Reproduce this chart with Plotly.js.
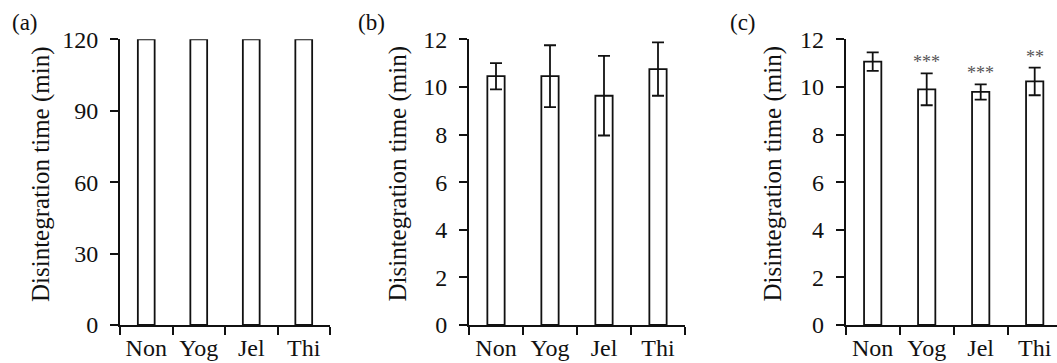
<!DOCTYPE html>
<html><head><meta charset="utf-8">
<script src="https://cdn.plot.ly/plotly-3.0.1.min.js"></script>
<style>html,body{margin:0;padding:0;background:#fff}</style>
</head><body><div id="chart" style="width:1057px;height:363px"></div>
<script>
const categories = ['Non', 'Yog', 'Jel', 'Thi'];
const valuesA = [120, 120, 120, 120];
const valuesB = [10.45, 10.45, 9.63, 10.75];
const errorsB = [0.55, 1.3, 1.67, 1.12];
const valuesC = [11.06, 9.9, 9.79, 10.23];
const errorsC = [0.39, 0.67, 0.32, 0.58];
const significanceC = ['', '***', '***', '**'];
const panelLabels = ['(a)', '(b)', '(c)'];
const yTitle = 'Disintegration time (min)';
const yTicksA = [0, 30, 60, 90, 120];
const yTicksBC = [0, 2, 4, 6, 8, 10, 12];

const W = 1057, H = 363;
const FONT = '"Liberation Serif", "Times New Roman", Times, serif';
const INK = '#111111';
const px = v => v / W;
const py = v => (H - v) / H;

function barTrace(vals, errs, xa, ya) {
  const t = {
    type: 'bar', x: categories, y: vals, xaxis: xa, yaxis: ya,
    width: 0.32, cliponaxis: false,
    marker: {color: '#ffffff', line: {color: INK, width: 1.8}},
    hoverinfo: 'skip', showlegend: false
  };
  if (errs) t.error_y = {type: 'data', array: errs, visible: true, color: INK, thickness: 1.8, width: 6};
  return t;
}

function xAxis(domain, range, anchor) {
  return {
    domain: domain, type: 'category', range: range, anchor: anchor,
    tickson: 'boundaries', ticks: 'outside', ticklen: 8, tickwidth: 1.8, tickcolor: INK,
    showline: true, linewidth: 1.8, linecolor: INK, showgrid: false, zeroline: false,
    tickfont: {family: FONT, size: 24, color: INK}
  };
}
function yAxis(range, tickvals, anchor) {
  return {
    domain: [py(325), py(39.3)], range: range, tickvals: tickvals, anchor: anchor,
    ticks: 'outside', ticklen: 8, tickwidth: 1.8, tickcolor: INK, ticklabelstandoff: 7,
    showline: true, linewidth: 1.8, linecolor: INK, showgrid: false, zeroline: false,
    tickfont: {family: FONT, size: 24, color: INK}
  };
}

const data = [
  barTrace(valuesA, null, 'x', 'y'),
  barTrace(valuesB, errorsB, 'x2', 'y2'),
  barTrace(valuesC, errorsC, 'x3', 'y3')
];

const annotations = [];
const titleX = [41, 397.5, 772.5];
const labelX = [24.5, 371.5, 742.5];
for (let i = 0; i < 3; i++) {
  annotations.push({
    text: yTitle, textangle: -90, xref: 'paper', yref: 'paper',
    x: px(titleX[i]), y: py(174), xanchor: 'center', yanchor: 'middle',
    showarrow: false, font: {family: FONT, size: 25, color: INK}
  });
  annotations.push({
    text: panelLabels[i], xref: 'paper', yref: 'paper',
    x: px(labelX[i]), y: py(23), xanchor: 'center', yanchor: 'middle',
    showarrow: false, font: {family: FONT, size: 23, color: INK}
  });
}
for (let i = 0; i < categories.length; i++) {
  if (!significanceC[i]) continue;
  annotations.push({
    text: significanceC[i], xref: 'x3', yref: 'y3',
    x: categories[i], y: valuesC[i] + errorsC[i], xanchor: 'center', yanchor: 'bottom',
    yshift: -1, showarrow: false, font: {family: FONT, size: 18, color: '#555555'}
  });
}

const layout = {
  width: W, height: H, margin: {l: 0, r: 0, t: 0, b: 0},
  paper_bgcolor: '#ffffff', plot_bgcolor: '#ffffff',
  font: {family: FONT, color: INK},
  showlegend: false, bargap: 0.68,
  xaxis: xAxis([px(120), px(330)], [-0.5, 3.5], 'y'),
  yaxis: yAxis([0, 120], yTicksA, 'x'),
  xaxis2: xAxis([px(469), px(685)], [-0.5, 3.5], 'y2'),
  yaxis2: yAxis([0, 12], yTicksBC, 'x2'),
  xaxis3: xAxis([px(845.7), 1], [-0.5, -0.5 + (W - 845.7) / 54], 'y3'),
  yaxis3: yAxis([0, 12], yTicksBC, 'x3'),
  annotations: annotations
};

Plotly.newPlot('chart', data, layout, {displayModeBar: false});
</script>
</body></html>
